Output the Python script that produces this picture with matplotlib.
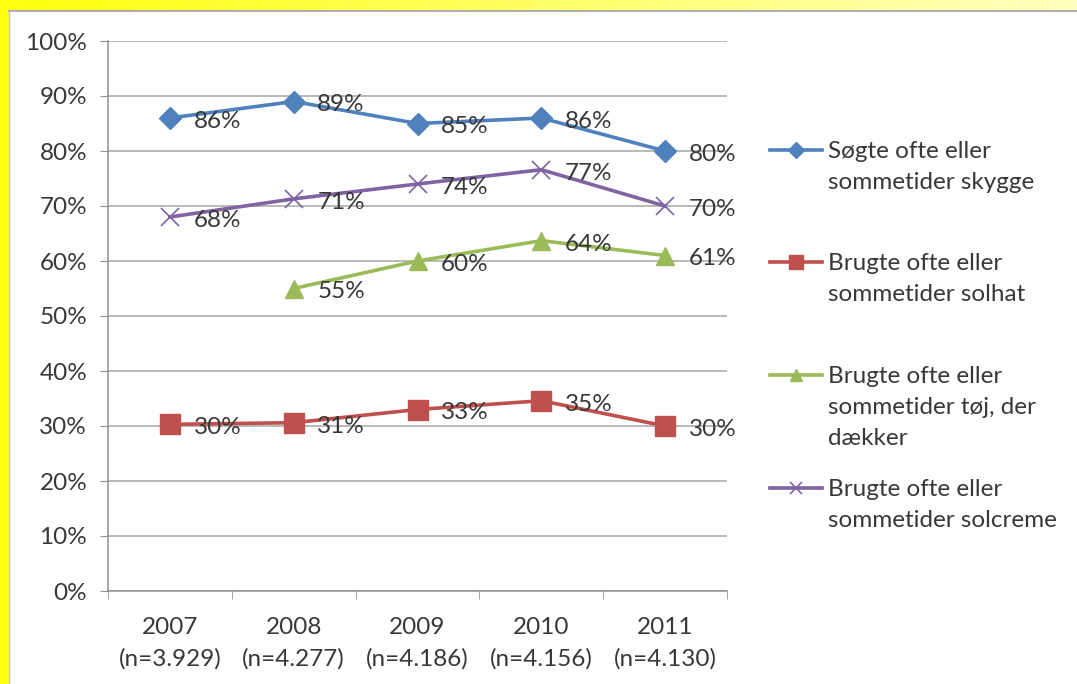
import matplotlib.pyplot as plt
import matplotlib.lines as mlines
import numpy as np

# Data
years = ['2007', '2008', '2009', '2010', '2011']
sample_sizes = ['3.929', '4.277', '4.186', '4.156', '4.130']

skygge = [86, 89, 85, 86, 80]
solhat = [30.3, 30.6, 33, 34.6, 30]
toej = [np.nan, 55, 60, 63.7, 61]
solcreme = [68, 71.3, 74, 76.6, 70]

series_names = ['Søgte ofte eller\nsommetider skygge',
                'Brugte ofte eller\nsommetider solhat',
                'Brugte ofte eller\nsommetider tøj, der\ndækker',
                'Brugte ofte eller\nsommetider solcreme']

plt.rcParams['font.family'] = ['Lato', 'DejaVu Sans']
txt = '#383838'
fs = 17.5

fig = plt.figure(figsize=(10.77, 6.84), dpi=100)

# yellow frame behind the white panel
bg = fig.add_axes([0, 0, 1, 1], zorder=-5)
grad = np.linspace(0, 1, 256)
cols = np.zeros((1, 256, 3))
cols[0, :, 0] = 1.0
cols[0, :, 1] = 1.0
cols[0, :, 2] = 0.05 + 0.7 * grad
bg.imshow(cols, aspect='auto', extent=[0, 1, 0, 1])
bg.add_patch(plt.Rectangle((9 / 1077, 0), 1, 1 - 11 / 684, color='white'))
bg.plot([9 / 1077, 1], [1 - 11 / 684, 1 - 11 / 684], color='#b0b0b0', lw=1.5)
bg.plot([9 / 1077, 9 / 1077], [0, 1 - 11 / 684], color='#c8c8a0', lw=1)
bg.set_xlim(0, 1)
bg.set_ylim(0, 1)
bg.axis('off')

ax = fig.add_axes([108 / 1077, 93 / 684, 619 / 1077, 550 / 684])
x = np.arange(len(years))

styles = [
    dict(color='#4F81BD', marker='D', ms=11),
    dict(color='#C0504D', marker='s', ms=14),
    dict(color='#9BBB59', marker='^', ms=13),
    dict(color='#8064A2', marker='x', ms=13, mew=1.2),
]
all_series = [skygge, solhat, toej, solcreme]

for vals, st in zip(all_series, styles):
    ax.plot(x, vals, lw=2.6, zorder=3, **st)
    for xi, v in zip(x, vals):
        if np.isnan(v):
            continue
        ax.annotate(f'{v:.0f}%', (xi, v), xytext=(17, -2.5), textcoords='offset points',
                    ha='left', va='center', fontsize=fs, color=txt, zorder=4)

ax.set_xlim(-0.5, 4.5)
ax.set_ylim(0, 100)
ax.set_yticks(np.arange(0, 101, 10))
ax.set_yticklabels([f'{v}%' for v in range(0, 101, 10)], fontsize=fs, color=txt)
ax.set_xticks(x)
ax.set_xticklabels([f'{y}\n(n={n})' for y, n in zip(years, sample_sizes)],
                   fontsize=fs, color=txt, linespacing=1.55)
ax.set_xticks(np.arange(-0.5, 4.6, 1), minor=True)
ax.tick_params(axis='x', which='major', length=0, pad=19)
ax.tick_params(axis='x', which='minor', length=6, color='#909090')
ax.tick_params(axis='y', length=6, color='#909090', pad=9)

ax.grid(axis='y', color='#a6a6a6', lw=1.1)
ax.set_axisbelow(True)
for side in ['top', 'right']:
    ax.spines[side].set_visible(False)
for side in ['left', 'bottom']:
    ax.spines[side].set_color('#909090')
    ax.spines[side].set_linewidth(1.1)

# legend drawn by hand to get Excel-like spacing
leg_y = [150, 262, 375, 488]
for name, st, yy in zip(series_names, styles, leg_y):
    yf = 1 - yy / 684
    h = mlines.Line2D([770 / 1077, 822 / 1077], [yf, yf], transform=fig.transFigure,
                      lw=2.6, color=st['color'])
    fig.add_artist(h)
    mk = dict(st)
    mk['ms'] = st['ms'] * 0.7
    m = mlines.Line2D([796 / 1077], [yf], transform=fig.transFigure, lw=0, **mk)
    fig.add_artist(m)
    fig.text(828 / 1077, yf + 9 / 684, name, ha='left', va='top', fontsize=fs,
             color=txt, linespacing=1.6)

plt.savefig('out.png', dpi=100)
